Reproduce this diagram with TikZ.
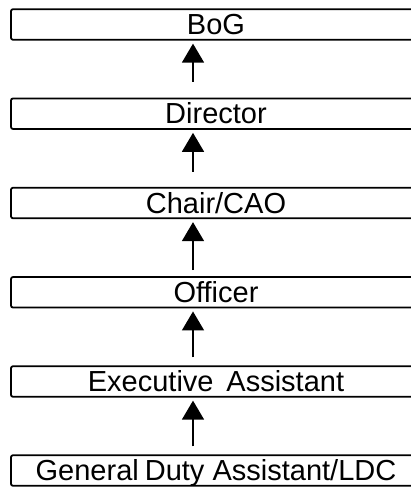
\documentclass[tikz,border=0pt]{standalone}
\usepackage{fontspec}
\setmainfont{Liberation Sans}
\usetikzlibrary{arrows.meta}
\begin{document}
\begin{tikzpicture}[x=1pt,y=-1pt,
  box/.style={draw,line width=1.8pt,rounded corners=2pt,minimum width=410pt,minimum height=30.5pt,
    inner sep=0pt,text height=24pt,text depth=4pt,font=\fontsize{29}{32}\selectfont},
  arr/.style={line width=1.6pt,-{Triangle[width=22pt,length=19pt]}}]
\useasboundingbox (0,0) rectangle (410,487);
\node[box] (bog) at (216,24.5) {BoG};
\node[box] (dir) at (216,113.7) {Director};
\node[box] (chair) at (216,203) {Chair/CAO};
\node[box] (off) at (216,292.3) {Officer};
\node[box] (ea) at (216,381.5) {Executive\, Assistant};
\node[box] (gda) at (216,470.5) {General\kern-2pt\ Duty Assistant/LDC};
\coordinate (ax) at (193,0);
\draw[arr,shorten <=16pt,shorten >=3pt] (dir.north -| ax) -- (bog.south -| ax);
\draw[arr,shorten <=15pt,shorten >=3pt] (chair.north -| ax) -- (dir.south -| ax);
\draw[arr,shorten <=6pt,shorten >=3pt] (off.north -| ax) -- (chair.south -| ax);
\draw[arr,shorten <=8pt,shorten >=3pt] (ea.north -| ax) -- (off.south -| ax);
\draw[arr,shorten <=8pt,shorten >=3pt] (gda.north -| ax) -- (ea.south -| ax);
\end{tikzpicture}
\end{document}
